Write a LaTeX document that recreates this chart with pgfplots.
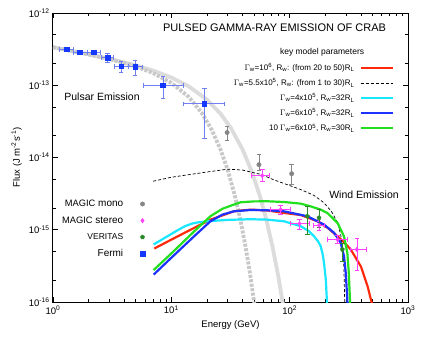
\documentclass[border=0pt]{standalone}
\usepackage{fontspec}
\setmainfont{Liberation Sans}
\usepackage{pgfplots}
\pgfplotsset{compat=1.18}
\definecolor{cred}{HTML}{FF2A0A}
\definecolor{ccyan}{HTML}{19E6FF}
\definecolor{cblue}{HTML}{1E32FF}
\definecolor{cgreen}{HTML}{22E01E}
\definecolor{fermi}{HTML}{1538FF}
\definecolor{fermierr}{HTML}{6F7FF0}
\definecolor{mono}{HTML}{858585}
\definecolor{stereo}{HTML}{FF40FF}
\definecolor{veritas}{HTML}{2A8A2A}
\definecolor{gA}{HTML}{DCDCDC}
\definecolor{gB}{HTML}{C8C8C8}
\newcommand{\tl}{\fontsize{9.5}{10}\selectfont}
\begin{document}
\begin{tikzpicture}
\begin{axis}[scale only axis, width=355pt, height=289pt,
  xmode=log, ymode=log, xmin=1, xmax=1000, ymin=1e-16, ymax=1e-12,
  name=main,
  xtick={1,10,100,1000},
  xticklabels={10\textsuperscript{0},10\textsuperscript{1},10\textsuperscript{2},10\textsuperscript{3}},
  minor xtick={2,3,4,5,6,7,8,9,20,30,40,50,60,70,80,90,200,300,400,500,600,700,800,900},
  ytick={1e-16,1e-15,1e-14,1e-13,1e-12},
  yticklabels={10\textsuperscript{-16},10\textsuperscript{-15},10\textsuperscript{-14},10\textsuperscript{-13},10\textsuperscript{-12}},
  minor ytick={2e-16,5e-16,2e-15,5e-15,2e-14,5e-14,2e-13,5e-13},
  major tick length=5pt, minor tick length=3pt,
  axis line style={line width=1pt},
  tick style={line width=0.7pt, black},
  ticklabel style={font=\tl},
  xlabel={Energy (GeV)}, ylabel={Flux (J m\textsuperscript{-2}s\textsuperscript{-1})},
  label style={font=\tl},
  legend plot pos=right, legend cell align=right,
  legend image post style={xscale=1.875},
  legend style={at={(0.963,0.836)}, anchor=north east, draw=none, fill=none,
    font=\fontsize{8}{9}\selectfont, row sep=2.6pt, inner sep=1pt, column sep=3pt},
]
% pulsar model curves
\addplot[forget plot, gA, line width=3.8pt] coordinates {
(1,3.36e-13) (2,2.68e-13) (3,2.32e-13) (5,1.89e-13) (7,1.60e-13) (10,1.28e-13) (14,9.68e-14) (20,6.33e-14) (26,4.05e-14) (32,2.53e-14) (40,1.29e-14) (48,6.31e-15) (56,2.94e-15) (64,1.31e-15) (72,5.6e-16) (80,2.30e-16) (88,9.1e-17) (92,5.6e-17)};
\addplot[forget plot, gB, line width=3.8pt, dash pattern=on 3pt off 1.5pt] coordinates {
(1,3.36e-13) (1.5,2.94e-13) (2,2.67e-13) (3,2.30e-13) (4,2.03e-13) (5,1.82e-13) (7,1.48e-13) (10,1.08e-13) (14,6.92e-14) (18,4.19e-14) (22,2.40e-14) (26,1.30e-14) (30,6.65e-15) (34,3.21e-15) (38,1.47e-15) (42,6.35e-16) (46,2.61e-16) (50,1.02e-16) (52,6.2e-17)};
% wind models
\addplot[cred, line width=2.2pt] coordinates {
(7.18,5.5e-16) (10,7.3e-16) (14,9.7e-16) (21.4,1.38e-15) (27,1.58e-15) (33.7,1.80e-15) (46.7,1.90e-15) (65,1.85e-15) (89.5,1.71e-15) (124,1.60e-15) (172,1.31e-15) (210,1.06e-15) (254,8.1e-16) (290,6.65e-16) (329,5.3e-16) (400,3.1e-16) (455,1.66e-16) (492,1.0e-16) (500,9e-17)};
\addlegendentry{$\Gamma$\textsubscript{w}=10\textsuperscript{6}, R\textsubscript{w}: (from 20 to 50)R\textsubscript{L}}
\addplot[black, line width=0.7pt, dash pattern=on 3pt off 2pt] coordinates {
(7.03,4.7e-15) (10,5.33e-15) (20,6.3e-15) (30,6.9e-15) (40,6.7e-15) (58,5.8e-15) (73,4.93e-15) (104,4.0e-15) (124,3.6e-15) (160,3.0e-15) (194,2.38e-15) (225,1.8e-15) (254,1.26e-15) (270,8.5e-16) (280,5.9e-16) (287,3.2e-16) (292,1.0e-16) (293,8e-17)};
\addlegendentry{$\Gamma$\textsubscript{w}=5.5x10\textsuperscript{5}, R\textsubscript{w}: (from 1 to 30)R\textsubscript{L}}
\addplot[ccyan, line width=2.2pt] coordinates {
(7.08,6.25e-16) (9,7.9e-16) (11,9.6e-16) (13,1.12e-15) (15,1.22e-15) (17,1.27e-15) (21.4,1.32e-15) (30,1.37e-15) (46.7,1.40e-15) (65,1.38e-15) (89.5,1.31e-15) (124,1.12e-15) (145,9.6e-16) (161,8.1e-16) (175,6.8e-16) (183,5.9e-16) (190,4.6e-16) (195,3.5e-16) (202,2.05e-16) (206,1.1e-16) (208,8e-17)};
\addlegendentry{$\Gamma$\textsubscript{w}=4x10\textsuperscript{5}, R\textsubscript{w}=32R\textsubscript{L}}
\addplot[cblue, line width=2.2pt] coordinates {
(7.1,2.4e-16) (10,4.1e-16) (15.8,8.3e-16) (21.4,1.31e-15) (27,1.62e-15) (33.7,1.80e-15) (46.7,1.88e-15) (65,1.86e-15) (89.5,1.80e-15) (141,1.54e-15) (195,1.18e-15) (237,9.1e-16) (270,6.6e-16) (288,4.3e-16) (298,2.5e-16) (305,1.3e-16) (310,8e-17)};
\addlegendentry{$\Gamma$\textsubscript{w}=6x10\textsuperscript{5}, R\textsubscript{w}=32R\textsubscript{L}}
\addplot[cgreen, line width=2.2pt] coordinates {
(7.07,2.76e-16) (10,4.7e-16) (15.8,9.7e-16) (21.4,1.54e-15) (27,1.95e-15) (33.7,2.23e-15) (38.4,2.40e-15) (50,2.47e-15) (64.8,2.48e-15) (90,2.42e-15) (124,2.30e-15) (150,2.11e-15) (180,1.92e-15) (208,1.71e-15) (254,1.24e-15) (288,8.1e-16) (307,4.8e-16) (316,2.54e-16) (323,1.1e-16) (326,8e-17)};
\addlegendentry{10 $\Gamma$\textsubscript{w}=6x10\textsuperscript{5}, R\textsubscript{w}=30R\textsubscript{L}}
\node[font=\fontsize{11}{12}\selectfont] at (rel axis cs:0.624,0.948) {PULSED GAMMA-RAY EMISSION OF CRAB};
\node[font=\fontsize{8.5}{9}\selectfont] at (rel axis cs:0.758,0.865) {key model parameters};
\node[font=\fontsize{10.5}{12}\selectfont, anchor=west] at (rel axis cs:0.022,0.709) {Pulsar Emission};
\node[font=\fontsize{10.5}{12}\selectfont] at (rel axis cs:0.876,0.370) {Wind Emission};
\end{axis}
\begin{axis}[scale only axis, width=355pt, height=289pt,
  xmode=log, ymode=log, xmin=1, xmax=1000, ymin=1e-16, ymax=1e-12,
  hide axis,
  legend plot pos=right, legend cell align=right,
  legend style={at={(0.262,0.364)}, anchor=north east, draw=none, fill=none,
    font=\fontsize{10}{11}\selectfont, row sep=4.7pt, inner sep=1pt, column sep=15pt},
]
% MAGIC mono
\addplot[only marks, mark=*, mark size=2.2pt, mono, mark options={draw=mono, fill=mono},
  error bars/.cd, y dir=both, y explicit, error bar style={mono, line width=0.8pt}]
  table[x=x, y=y, y error plus=yp, y error minus=ym] {
x y yp ym
29.6 2.22e-14 0.53e-14 0.46e-14
55.0 7.96e-15 3.24e-15 1.26e-15
104 5.97e-15 2.13e-15 1.67e-15
};
\addlegendentry{{\fontsize{9.3}{9}\selectfont MAGIC} mono}
% MAGIC stereo
\addplot[only marks, mark=diamond*, mark size=2.3pt, stereo, mark options={draw=stereo, fill=stereo},
  error bars/.cd, x dir=both, x explicit, y dir=both, y explicit, error bar style={stereo, line width=0.6pt}]
  table[x=x, y=y, x error plus=xp, x error minus=xm, y error plus=yp, y error minus=ym] {
x y xp xm yp ym
58.7 5.6e-15 8.9 11.1 1.2e-15 0.9e-15
83.9 1.90e-15 18.1 14.9 0.28e-15 0.24e-15
121 1.21e-15 25 20.4 0.17e-15 0.18e-15
177 1.15e-15 18 18 0.15e-15 0.15e-15
254 7.3e-16 54 46 1.2e-16 0.8e-16
370 5.33e-16 71 46 2.37e-16 2.53e-16
};
\addlegendentry{{\fontsize{9.3}{9}\selectfont MAGIC} stereo}
% VERITAS
\addplot[only marks, mark=pentagon*, mark size=2.2pt, veritas, mark options={draw=veritas, fill=veritas},
  error bars/.cd, y dir=both, y explicit, error bar style={veritas, line width=0.9pt}]
  table[x=x, y=y, y error plus=yp, y error minus=ym] {
x y yp ym
141 1.54e-15 0.56e-15 0.66e-15
177 1.46e-15 0.44e-15 0.36e-15
279 5.33e-16 1.17e-16 1.63e-16
};
\addlegendentry{{\fontsize{8.5}{9}\selectfont VERITAS}}
% Fermi
\addplot[only marks, mark=square*, mark size=2.3pt, fermierr, mark options={draw=fermi, fill=fermi},
  error bars/.cd, x dir=both, x explicit, y dir=both, y explicit, error bar style={fermierr, line width=0.8pt}]
  table[x=x, y=y, x error plus=xp, x error minus=xm, y error plus=yp, y error minus=ym] {
x y xp xm yp ym
1.30 3.15e-13 0.18 0.17 0.1e-13 0.1e-13
1.69 2.86e-13 0.24 0.20 0.1e-13 0.1e-13
2.22 2.86e-13 0.28 0.27 0.1e-13 0.1e-13
2.89 2.41e-13 0.35 0.34 0.37e-13 0.31e-13
3.77 1.83e-13 0.53 0.47 0.34e-13 0.31e-13
4.95 1.80e-13 0.70 0.60 0.42e-13 0.44e-13
8.5 1.0e-13 4.1 2.75 0.32e-13 0.34e-13
19.0 5.53e-14 9.1 6.3 3.57e-14 3.69e-14
};
\addlegendentry{Fermi}
\end{axis}
\pgfresetboundingbox
\path[use as bounding box] ([shift={(-53pt,-36pt)}]main.south west) rectangle ([shift={(23pt,13pt)}]main.north east);
\end{tikzpicture}
\end{document}
